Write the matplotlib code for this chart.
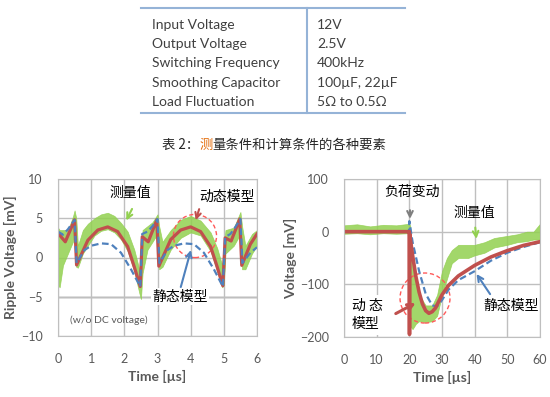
import matplotlib
matplotlib.use('Agg')
import matplotlib.pyplot as plt
from matplotlib.patches import Ellipse
from matplotlib.lines import Line2D

plt.rcParams['font.family'] = ['Lato', 'DejaVu Sans']
CJK = ['Noto Sans CJK SC', 'DejaVu Sans']

# conditions table
param_names = ['Input Voltage', 'Output Voltage', 'Switching Frequency',
               'Smoothing Capacitor', 'Load Fluctuation']
param_values = ['12V', '2.5V', '400kHz', '100\u00b5F, 22\u00b5F', '5\u03a9 to 0.5\u03a9']
caption_parts = ['表 2：', '测', '量条件和计算条件的各种要素']
caption_colors = ['#262626', '#e46c0a', '#262626']

# left chart: ripple voltage [mV] vs time [us]
ripple_red_t = [0, 0.22, 0.5, 0.56, 0.9, 1.2, 1.5, 1.8, 2.1, 2.3, 2.48, 2.54, 2.72, 2.98,
                3.04, 3.4, 3.7, 4.0, 4.3, 4.6, 4.8, 4.97, 5.04, 5.22, 5.48, 5.54, 5.8, 6.0]
ripple_red_v = [3.1, 2.0, 4.8, -0.95, 2.2, 3.5, 3.9, 3.3, 1.4, -1.2, -3.7, 2.65, 2.0, 4.8,
                -1.1, 2.3, 3.5, 3.9, 3.3, 1.4, -1.2, -3.6, 2.5, 2.1, 4.9, -1.0, 1.7, 3.0]
ripple_blue_t = [0, 0.15, 0.3, 0.5, 0.56, 0.8, 1.0, 1.3, 1.6, 1.9, 2.2, 2.48, 2.54, 2.7, 2.85,
                 3.0, 3.06, 3.3, 3.5, 3.8, 4.1, 4.4, 4.7, 4.97, 5.04, 5.2, 5.35, 5.5, 5.56,
                 5.8, 6.0]
ripple_blue_v = [3.3, 2.9, 3.6, 4.8, -0.7, 0.95, 1.5, 1.8, 1.7, 0.6, -1.5, -3.7, 3.0, 3.3, 4.0,
                 4.9, -0.7, 0.95, 1.5, 1.8, 1.7, 0.6, -1.5, -3.7, 2.6, 3.0, 3.9, 4.9, -0.7,
                 0.6, 1.3]
ripple_meas_t = [0, 0.05, 0.15, 0.3, 0.45, 0.5, 0.55, 0.6, 0.75, 0.9, 1.1, 1.3, 1.5, 1.7,
                 1.9, 2.1, 2.3, 2.45, 2.5, 2.55, 2.7, 2.85, 3.0, 3.05, 3.15, 3.4, 3.7, 4.0,
                 4.3, 4.6, 4.8, 4.95, 5.0, 5.05, 5.3, 5.5, 5.55, 5.65, 5.85, 6.0]
ripple_meas_lo = [-3.5, -3.8, -1.0, 0.5, 2.0, 3.0, -1.2, -1.3, 0.5, 1.5, 2.8, 3.4, 3.6, 3.2,
                  2.3, 0.8, -1.8, -4.5, -5.3, -2.0, 1.0, 2.0, 3.0, -1.5, -1.2, 1.0, 2.5, 3.2,
                  2.8, 0.8, -1.8, -3.8, -3.5, 0.5, 1.5, 3.0, -1.5, -1.5, 0.5, 1.5]
ripple_meas_hi = [3.8, 3.5, 3.5, 3.5, 5.2, 6.0, 5.0, 1.5, 3.5, 4.3, 5.0, 5.5, 5.7, 5.3,
                  4.4, 3.3, 1.0, -1.5, -2.5, 3.5, 4.0, 4.5, 5.5, 4.0, 2.0, 3.5, 4.8, 5.3,
                  4.7, 3.2, 1.2, -1.0, 1.5, 3.5, 3.8, 5.8, 4.0, 1.5, 3.0, 3.5]

# right chart: load step response [mV] vs time [us]
step_red_t = [0, 19.9, 20.0, 20.05, 20.1, 21, 22, 23, 24, 25, 26, 27, 28, 30, 32, 35,
              40, 45, 50, 55, 60]
step_red_v = [0, 0, 0, -195, -5, -45, -85, -115, -137, -150, -155, -152, -145, -120, -102,
              -84, -64, -48, -36, -26, -19]
step_blue_t = [0, 19.9, 20.0, 21, 23, 25, 27, 28.5, 30, 32, 35, 40, 45, 50, 55, 60]
step_blue_v = [0, 0, 20, -20, -75, -118, -140, -142, -130, -110, -92, -75, -55, -40, -29, -20]
step_meas_t = [0, 4, 8, 12, 16, 19.9, 20.0, 20.3, 21, 22, 23, 25, 27, 28.5, 30, 31.5, 33,
               35, 38, 40, 43, 46, 50, 53, 56, 58, 60]
step_meas_lo = [-4, -3, -5, -3, -4, -3, -5, -180, -185, -175, -170, -172, -170, -160, -120,
                -90, -60, -50, -50, -45, -40, -30, -25, -20, -18, -15, -15]
step_meas_hi = [12, 14, 10, 13, 12, 15, 15, 10, -40, -90, -120, -140, -140, -120, -75,
                -50, -35, -25, -25, -25, -20, -12, -8, -5, 0, 0, 15]

RED = '#c0504d'
BLUE = '#4f81bd'
GREEN = '#92d050'
GRID = '#bfbfbf'
TXT = '#595959'

fig = plt.figure(figsize=(5.5, 3.97), dpi=100)
W, H = 550, 397

# ---- table ----
line_kw = dict(color='#95b3d7', lw=1.5)
fig.add_artist(Line2D([141 / W, 405 / W], [1 - 8 / H, 1 - 8 / H], **line_kw))
fig.add_artist(Line2D([141 / W, 405 / W], [1 - 113 / H, 1 - 113 / H], **line_kw))
fig.add_artist(Line2D([307 / W, 307 / W], [1 - 8 / H, 1 - 113 / H], **line_kw))
for i, (name, val) in enumerate(zip(param_names, param_values)):
    y = 1 - (25 + 19.2 * i) / H
    fig.text(152 / W, y, name, va='center', fontsize=10, color='#404040')
    fig.text(317 / W, y, val, va='center', fontsize=10, color='#404040')

# caption, one char highlighted
renderer = fig.canvas.get_renderer()
x = 162 / W
for part, col in zip(caption_parts, caption_colors):
    t = fig.text(x, 1 - 145 / H, part, va='center', fontsize=9.6, color=col, family=CJK)
    bb = t.get_window_extent(renderer)
    x = bb.x1 / W


def style_axes(ax):
    for s in ax.spines.values():
        s.set_color(GRID)
    ax.tick_params(length=0, labelsize=9, labelcolor=TXT)
    ax.tick_params(axis='x', pad=12)
    ax.tick_params(axis='y', pad=11)
    ax.grid(True, color=GRID, lw=1)
    ax.set_axisbelow(True)


# ---- left chart ----
axL = fig.add_axes([58 / W, 1 - 336 / H, 199 / W, 157 / H])
style_axes(axL)
axL.axhline(-5, color='#7f7f7f', lw=1, zorder=0.5)
axL.fill_between(ripple_meas_t, ripple_meas_lo, ripple_meas_hi, color=GREEN, alpha=0.85, lw=0.5)
axL.plot(ripple_red_t, ripple_red_v, color=RED, lw=2.3)
axL.plot(ripple_blue_t, ripple_blue_v, color=BLUE, lw=1.6, ls=(0, (3, 1.6)))
axL.set_xlim(0, 6)
axL.set_ylim(-10, 10)
axL.set_xticks(range(7))
axL.set_yticks([-10, -5, 0, 5, 10])
axL.set_xlabel('Time [\u00b5s]', fontsize=10, fontweight='bold', color=TXT, labelpad=4)
axL.set_ylabel('Ripple Voltage [mV]', fontsize=10, fontweight='bold', color=TXT, labelpad=3)

axL.text(2.17, 8.2, '测量值', family=CJK, fontsize=10, ha='center', va='center')
axL.annotate('', xy=(2.02, 4.4), xytext=(2.27, 6.5),
             arrowprops=dict(arrowstyle='->', color=GREEN, lw=1.5))
axL.text(5.11, 7.75, '动态模型', family=CJK, fontsize=10, ha='center', va='center')
axL.annotate('', xy=(4.13, 4.4), xytext=(4.28, 6.5),
             arrowprops=dict(arrowstyle='->', color=RED, lw=1.5))
axL.add_patch(Ellipse((4.13, 2.74), 1.3, 5.5, fill=False, ec='#ff5a5a', lw=1, ls=(0, (3, 2))))
axL.text(3.68, -5.0, '静态模型', family=CJK, fontsize=10, ha='center', va='center',
         bbox=dict(facecolor='white', edgecolor='none', pad=1))
axL.annotate('', xy=(4.03, 1.3), xytext=(3.68, -4.1),
             arrowprops=dict(arrowstyle='->', color=BLUE, lw=1.5))
axL.text(0.36, -8.05, '(w/o DC voltage)', fontsize=7.5, color=TXT, va='center')

# ---- right chart ----
axR = fig.add_axes([344 / W, 1 - 337 / H, 196 / W, 158 / H])
style_axes(axR)
axR.fill_between(step_meas_t, step_meas_lo, step_meas_hi, color=GREEN, alpha=0.85, lw=0.5)
axR.plot(step_blue_t, step_blue_v, color=BLUE, lw=1.6, ls=(0, (3, 1.6)))
axR.plot(step_red_t, step_red_v, color=RED, lw=2.6)
axR.set_xlim(0, 60)
axR.set_ylim(-200, 100)
axR.set_xticks(range(0, 61, 10))
axR.set_yticks([-200, -100, 0, 100])
axR.set_xlabel('Time [\u00b5s]', fontsize=10, fontweight='bold', color=TXT, labelpad=4)
axR.set_ylabel('Voltage [mV]', fontsize=10, fontweight='bold', color=TXT, labelpad=2)

axR.text(20.7, 75, '负荷变动', family=CJK, fontsize=10, ha='center', va='center')
axR.annotate('', xy=(20.2, 19), xytext=(20.2, 46),
             arrowprops=dict(arrowstyle='->', color='#7f7f7f', lw=1.5))
axR.text(39.8, 35, '测量值', family=CJK, fontsize=10, ha='center', va='center')
axR.annotate('', xy=(40.6, -19), xytext=(40.1, 13),
             arrowprops=dict(arrowstyle='->', color=GREEN, lw=1.5))
axR.text(51.3, -142, '静态模型', family=CJK, fontsize=10, ha='center', va='center')
axR.annotate('', xy=(40.1, -76), xytext=(45.2, -123),
             arrowprops=dict(arrowstyle='->', color=BLUE, lw=1.5))
axR.text(2.3, -158, '动 态\n模型', family=CJK, fontsize=10, ha='left', va='center',
         linespacing=1.35, bbox=dict(facecolor='white', edgecolor='none', pad=3))
axR.add_patch(Ellipse((24.8, -126), 15.3, 95, fill=False, ec='#ff5a5a', lw=1, ls=(0, (3, 2))))
axR.annotate('', xy=(22.7, -133), xytext=(15.1, -158),
             arrowprops=dict(arrowstyle='->', color=RED, lw=2.2))

fig.savefig('out.png', dpi=100)
